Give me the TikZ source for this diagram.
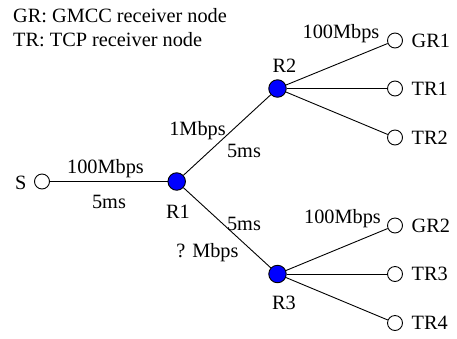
\documentclass[tikz,border=0pt]{standalone}
\usepackage{fontspec}
\setmainfont{Liberation Serif}
\newcommand\labfont{\fontsize{20.3}{24}\selectfont}
\begin{document}
\begin{tikzpicture}[x=1pt,y=-1pt,
  recv/.style={circle,draw=black,fill=white,line width=0.9pt,minimum size=15pt,inner sep=0pt},
  router/.style={circle,draw=black,fill=blue,line width=0.9pt,minimum size=17.5pt,inner sep=0pt},
  link/.style={line width=0.9pt},
  lbl/.style={font=\labfont,inner sep=0pt,anchor=base},
  rlbl/.style={font=\labfont,inner sep=0pt,anchor=base west}]
\useasboundingbox (0,0) rectangle (457,338);
% nodes
\node[recv] (S) at (42,181.5) {};
\node[router] (R1) at (176.7,181.5) {};
\node[router] (R2) at (277.5,88.5) {};
\node[router] (R3) at (277.5,274) {};
\node[recv] (GR1) at (395,40.5) {};
\node[recv] (TR1) at (395,88.5) {};
\node[recv] (TR2) at (395,137.5) {};
\node[recv] (GR2) at (395,225.5) {};
\node[recv] (TR3) at (395,274) {};
\node[recv] (TR4) at (395,323) {};
% links
\draw[link] (S) -- (R1);
\draw[link] (R1) -- (R2);
\draw[link] (R1) -- (R3);
\draw[link] (R2) -- (GR1);
\draw[link] (R2) -- (TR1);
\draw[link] (R2) -- (TR2);
\draw[link] (R3) -- (GR2);
\draw[link] (R3) -- (TR3);
\draw[link] (R3) -- (TR4);
% legend
\node[rlbl] (leg1) at (13,22.8) {GR: GMCC receiver node};
\node[rlbl] (leg2) at (13,46.3) {TR: TCP receiver node};
% node names
\node[lbl] (lS) at (20.7,189) {S};
\node[lbl] (lR1) at (178,218) {R1};
\node[lbl] (lR2) at (284.5,72.5) {R2};
\node[lbl] (lR3) at (284,309.5) {R3};
\node[rlbl] (lGR1) at (411.5,47) {GR1};
\node[rlbl] (lTR1) at (411.5,95) {TR1};
\node[rlbl] (lTR2) at (411.5,144) {TR2};
\node[rlbl] (lGR2) at (411.5,232) {GR2};
\node[rlbl] (lTR3) at (411.5,280.5) {TR3};
\node[rlbl] (lTR4) at (411.5,329.5) {TR4};
% link labels
\node[lbl] (b1) at (105.5,173) {100Mbps};
\node[lbl] (d1) at (109,208) {5ms};
\node[lbl] (b2) at (197.5,135) {1Mbps};
\node[lbl] (d2) at (244,157) {5ms};
\node[lbl] (d3) at (244,230) {5ms};
\node[lbl] (b3) at (207.5,257) {? Mbps};
\node[lbl] (b4) at (341,38.5) {100Mbps};
\node[lbl] (b5) at (342.5,223) {100Mbps};
\end{tikzpicture}
\end{document}
